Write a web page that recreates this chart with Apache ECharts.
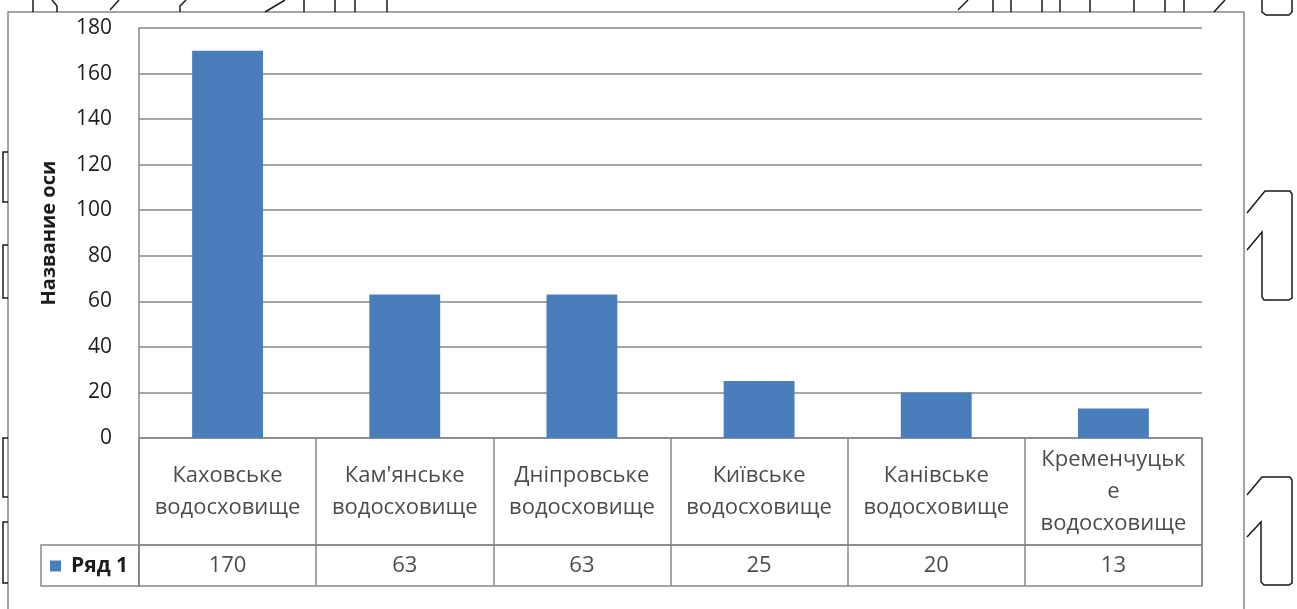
<!DOCTYPE html>
<html>
<head>
<meta charset="utf-8">
<script src="https://cdn.jsdelivr.net/npm/echarts@6/dist/echarts.min.js"></script>
<style>
html, body { margin: 0; padding: 0; background: #fff; }
#chart { width: 1297px; height: 609px; }
</style>
</head>
<body>
<div id="chart"></div>
<script>
// Reservoirs of the Dnipro cascade and their values
const categories = [
  'Каховське\nводосховище',
  "Кам'янське\nводосховище",
  'Дніпровське\nводосховище',
  'Київське\nводосховище',
  'Канівське\nводосховище',
  'Кременчуцьк\nе\nводосховище'
];
const seriesName = 'Ряд 1';
const values = [170, 63, 63, 25, 20, 13];
const yMin = 0;
const yMax = 180;
const yStep = 20;
const axisTitle = 'Название оси';

const FONT = "'Open Sans', 'DejaVu Sans', sans-serif";
const LINE = '#878787';
const TEXT = '#1c1c1c';
const BAR = '#4a7ebb';

// plot + data-table layout
const plotLeft = 139, plotWidth = 1063;
const plotTop = 28, plotBottom = 438;
const headBottom = 545, tableBottom = 586;

const chart = echarts.init(document.getElementById('chart'), null, { renderer: 'canvas' });

// hand-drawn outlines around the chart frame
const ink = { stroke: '#1a1a1a', lineWidth: 1.5, fill: null };
function poly(points) {
  return { type: 'polyline', silent: true, shape: { points }, style: ink };
}
const decorations = [
  // left brackets
  poly([[8, 152], [3, 152], [3, 202], [8, 202]]),
  poly([[8, 245], [3, 245], [3, 298], [8, 298]]),
  poly([[8, 438], [3, 438], [3, 497], [8, 497]]),
  poly([[8, 522], [3, 522], [3, 583], [8, 583]]),
  // right "1" outlines
  poly([[1247, 213], [1265, 191], [1290, 191], [1292, 194], [1292, 298], [1289, 300], [1264, 300], [1262, 297], [1262, 232], [1247, 250]]),
  poly([[1247, 495], [1262, 477], [1290, 477], [1292, 480], [1292, 583], [1289, 585], [1264, 585], [1261, 582], [1261, 522], [1247, 537]]),
  poly([[1262, 0], [1262, 12], [1266, 15], [1289, 15], [1292, 12], [1292, 0]]),
  // top strip
  poly([[33, 0], [33, 12]]),
  poly([[52, 0], [57, 6], [57, 12]]),
  poly([[110, 10], [119, 0]]),
  poly([[186, 0], [180, 6], [180, 12]]),
  poly([[265, 12], [285, 0]]),
  poly([[304, 0], [304, 12]]),
  poly([[335, 0], [335, 12]]),
  poly([[355, 0], [355, 12]]),
  poly([[387, 0], [387, 12]]),
  poly([[958, 10], [968, 0]]),
  poly([[993, 0], [993, 12]]),
  poly([[1011, 0], [1011, 12]]),
  poly([[1042, 0], [1042, 12]]),
  poly([[1060, 0], [1060, 12]]),
  poly([[1090, 0], [1090, 12]]),
  poly([[1134, 0], [1134, 12]]),
  poly([[1165, 0], [1165, 12]]),
  poly([[1184, 0], [1184, 12]]),
  poly([[1214, 12], [1225, 0]])
];

const option = {
  animation: false,
  backgroundColor: '#ffffff',
  textStyle: { fontFamily: FONT },
  legend: {
    data: [seriesName],
    left: 50,
    top: 555,
    padding: 0,
    icon: 'rect',
    itemWidth: 11,
    itemHeight: 11,
    itemGap: 0,
    selectedMode: false,
    textStyle: { fontFamily: FONT, fontSize: 21, fontWeight: 'bold', color: TEXT, lineHeight: 22, padding: [0, 0, 0, 5] }
  },
  grid: [
    { left: plotLeft, width: plotWidth, top: plotTop, height: plotBottom - plotTop, outerBoundsMode: 'none' },
    { left: plotLeft, width: plotWidth, top: plotBottom, height: headBottom - plotBottom, show: true, borderColor: LINE, borderWidth: 1.5, outerBoundsMode: 'none' },
    { left: plotLeft, width: plotWidth, top: headBottom, height: tableBottom - headBottom, show: true, borderColor: LINE, borderWidth: 1.5, outerBoundsMode: 'none' }
  ],
  xAxis: [0, 1, 2].map(g => ({
    type: 'category',
    gridIndex: g,
    data: categories,
    boundaryGap: true,
    axisLine: { show: false },
    axisTick: { show: false },
    axisLabel: { show: false },
    splitLine: { show: g > 0, interval: 0, lineStyle: { color: LINE, width: 1.5 } }
  })),
  yAxis: [
    {
      type: 'value',
      gridIndex: 0,
      min: yMin,
      max: yMax,
      interval: yStep,
      name: axisTitle,
      nameLocation: 'middle',
      nameRotate: 90,
      nameGap: 80,
      nameTextStyle: { fontFamily: FONT, fontSize: 20, fontWeight: 'bold', color: TEXT },
      axisLine: { show: true, lineStyle: { color: LINE, width: 1.5 } },
      axisTick: { show: false },
      axisLabel: { fontFamily: FONT, fontSize: 21, color: TEXT, margin: 27 },
      splitLine: { show: true, lineStyle: { color: LINE, width: 1.5 } }
    },
    { type: 'value', gridIndex: 1, min: 0, max: 1, show: false },
    { type: 'value', gridIndex: 2, min: 0, max: 1, show: false }
  ],
  series: [
    {
      name: seriesName,
      type: 'bar',
      xAxisIndex: 0,
      yAxisIndex: 0,
      data: values,
      barWidth: '40%',
      itemStyle: { color: BAR }
    },
    {
      // data table: header row with reservoir names
      name: 'header',
      type: 'scatter',
      xAxisIndex: 1,
      yAxisIndex: 1,
      symbolSize: 1,
      itemStyle: { color: 'rgba(0,0,0,0)' },
      silent: true,
      data: categories.map((c, i) => [i, 0.5]),
      label: {
        show: true,
        position: 'inside',
        formatter: p => categories[p.dataIndex],
        fontFamily: FONT,
        fontSize: 22,
        lineHeight: 32,
        color: TEXT,
        align: 'center',
        padding: [4, 0, 0, 0]
      }
    },
    {
      // data table: value row
      name: 'table',
      type: 'scatter',
      xAxisIndex: 2,
      yAxisIndex: 2,
      symbolSize: 1,
      itemStyle: { color: 'rgba(0,0,0,0)' },
      silent: true,
      data: values.map((v, i) => [i, 0.5]),
      label: {
        show: true,
        position: 'inside',
        formatter: p => String(values[p.dataIndex]),
        fontFamily: FONT,
        fontSize: 22,
        color: TEXT
      }
    }
  ],
  graphic: [
    // chart frame
    { type: 'rect', silent: true, shape: { x: 8, y: 12, width: 1236, height: 640 }, style: { stroke: LINE, lineWidth: 1.5, fill: null } },
    // legend key cell of the data table
    { type: 'rect', silent: true, shape: { x: 41, y: headBottom, width: plotLeft - 41, height: tableBottom - headBottom }, style: { stroke: LINE, lineWidth: 1.5, fill: null } }
  ].concat(decorations)
};

chart.setOption(option);
</script>
</body>
</html>
